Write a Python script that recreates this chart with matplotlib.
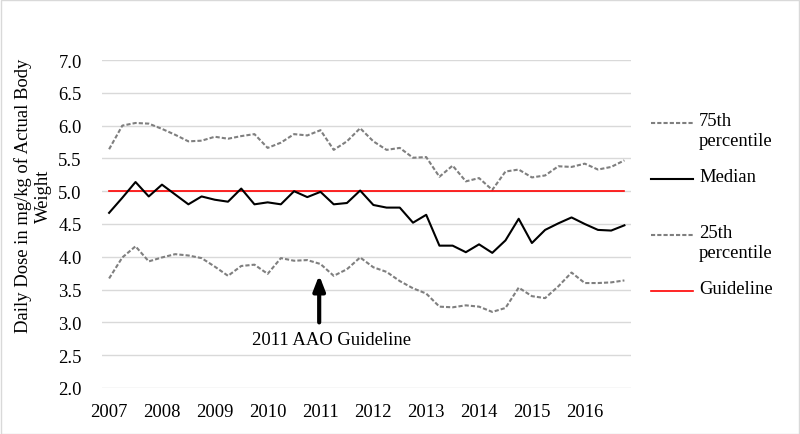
import matplotlib
matplotlib.use("Agg")
import matplotlib.pyplot as plt
from matplotlib.lines import Line2D
from matplotlib.patches import Rectangle
import numpy as np

plt.rcParams['font.family'] = ['Liberation Serif', 'DejaVu Serif']

years = ["2007", "2008", "2009", "2010", "2011", "2012", "2013", "2014", "2015", "2016"]

p75 = [5.64, 6.00, 6.04, 6.03, 5.95, 5.86, 5.76, 5.77, 5.83, 5.80,
       5.84, 5.87, 5.66, 5.74, 5.87, 5.85, 5.93, 5.63, 5.76, 5.96,
       5.76, 5.63, 5.66, 5.51, 5.52, 5.22, 5.39, 5.15, 5.20, 5.02,
       5.30, 5.33, 5.21, 5.24, 5.38, 5.37, 5.42, 5.33, 5.37, 5.47]

median = [4.67, 4.90, 5.14, 4.92, 5.10, 4.95, 4.80, 4.92, 4.87, 4.84,
          5.04, 4.80, 4.83, 4.80, 5.00, 4.91, 4.99, 4.80, 4.82, 5.01,
          4.79, 4.75, 4.75, 4.52, 4.64, 4.17, 4.17, 4.07, 4.19, 4.06,
          4.25, 4.58, 4.21, 4.41, 4.51, 4.60, 4.50, 4.41, 4.40, 4.48]

p25 = [3.67, 3.99, 4.16, 3.93, 3.99, 4.04, 4.02, 3.98, 3.85, 3.71,
       3.86, 3.88, 3.74, 3.98, 3.94, 3.95, 3.89, 3.71, 3.81, 3.99,
       3.84, 3.77, 3.63, 3.52, 3.44, 3.24, 3.23, 3.26, 3.24, 3.16,
       3.22, 3.53, 3.40, 3.37, 3.55, 3.76, 3.60, 3.60, 3.61, 3.64]

guideline_value = 5.0
guideline = [guideline_value] * len(median)

series_labels = ["75th\npercentile", "Median", "25th\npercentile", "Guideline"]

FS = 13.4
W, H = 800, 435
fig = plt.figure(figsize=(W / 100, H / 100), dpi=100)
ax = fig.add_axes([102.5 / W, 1 - 389 / H, (631 - 102.5) / W, (389 - 61) / H])

x = np.arange(len(median))
gray = '#7f7f7f'
dash = (0, (2.0, 1.0))
ax.plot(x, p75, color=gray, lw=1.5, linestyle=dash, zorder=3)
ax.plot(x, median, color='black', lw=1.5, zorder=4)
ax.plot(x, p25, color=gray, lw=1.5, linestyle=dash, zorder=3)
ax.plot(x, guideline, color='#ff0000', lw=1.2, zorder=3.5)

ax.set_xlim(-0.5, len(median) - 0.5)
ax.set_ylim(2.0, 7.0)
yt = np.arange(2.0, 7.01, 0.5)
ax.set_yticks(yt)
ax.set_yticklabels([f"{v:.1f}" for v in yt], fontsize=FS)
ax.set_xticks(np.arange(0, len(median), 4))
ax.set_xticklabels(years, fontsize=FS)
ax.tick_params(axis='y', length=0, pad=15)
ax.tick_params(axis='x', length=0, pad=11)
ax.grid(axis='y', color='#d9d9d9', lw=1.0)
ax.set_axisbelow(True)
for s in ax.spines.values():
    s.set_visible(False)

fig.text(33 / W, 1 - 196 / H, "Daily Dose in mg/kg of Actual Body\nWeight",
         fontsize=FS, rotation=90, ha='center', va='center',
         multialignment='center', linespacing=1.2)

ax.annotate("", xy=(15.9, 3.72), xytext=(15.9, 3.0),
            arrowprops=dict(arrowstyle='-|>,head_width=0.35,head_length=0.9',
                            color='black', lw=3, shrinkA=0, shrinkB=0))
ax.text(16.8, 2.74, "2011 AAO Guideline", fontsize=FS, ha='center', va='center')

# legend drawn manually
leg_items = [
    (series_labels[0], 124, gray, dash, 1.5),
    (series_labels[1], 180, 'black', '-', 1.5),
    (series_labels[2], 236, gray, dash, 1.5),
    (series_labels[3], 291.5, '#ff0000', '-', 1.2),
]
for label, yp, col, ls, lw in leg_items:
    fig.add_artist(Line2D([651 / W, 693 / W], [1 - yp / H, 1 - yp / H],
                          transform=fig.transFigure, color=col, lw=lw, linestyle=ls))
    fig.text(699 / W, 1 - (yp - 10.5) / H, label, fontsize=FS, ha='left', va='top',
             linespacing=1.2)

fig.add_artist(Rectangle((0.5 / W, 0.5 / H), 1 - 1.5 / W, 1 - 1.5 / H,
                         transform=fig.transFigure, fill=False,
                         edgecolor='#d9d9d9', lw=1.0))

fig.savefig("out.png", dpi=100)
